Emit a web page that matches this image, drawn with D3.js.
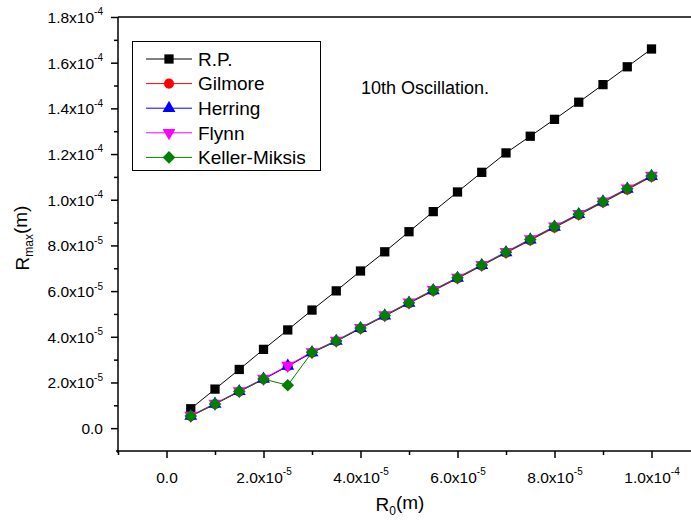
<!DOCTYPE html>
<html>
<head>
<meta charset="utf-8">
<script src="https://cdn.jsdelivr.net/npm/d3@7"></script>
<style>
  body { margin: 0; background: #fff; }
  svg { display: block; font-family: Arial, "Liberation Sans", sans-serif; }
</style>
</head>
<body>
<svg id="chart" width="691" height="524"></svg>
<script>
// R0 values (m)
var r0 = [0.5e-5, 1.0e-5, 1.5e-5, 2.0e-5, 2.5e-5, 3.0e-5, 3.5e-5, 4.0e-5, 4.5e-5, 5.0e-5,
          5.5e-5, 6.0e-5, 6.5e-5, 7.0e-5, 7.5e-5, 8.0e-5, 8.5e-5, 9.0e-5, 9.5e-5, 1.0e-4];

// Rmax values (m)
var rp = [8.5e-6, 1.71e-5, 2.57e-5, 3.45e-5, 4.30e-5, 5.17e-5, 6.01e-5, 6.88e-5, 7.72e-5, 8.60e-5,
          9.48e-5, 1.034e-4, 1.120e-4, 1.205e-4, 1.278e-4, 1.352e-4, 1.427e-4, 1.504e-4, 1.582e-4, 1.660e-4];
var gilmore = [5.2e-6, 1.05e-5, 1.60e-5, 2.14e-5, 2.71e-5, 3.30e-5, 3.80e-5, 4.36e-5, 4.91e-5, 5.46e-5,
               6.01e-5, 6.55e-5, 7.11e-5, 7.67e-5, 8.22e-5, 8.78e-5, 9.33e-5, 9.88e-5, 1.044e-4, 1.100e-4];
var herring = [5.3e-6, 1.06e-5, 1.61e-5, 2.15e-5, 2.72e-5, 3.31e-5, 3.81e-5, 4.37e-5, 4.92e-5, 5.48e-5,
               6.03e-5, 6.57e-5, 7.13e-5, 7.69e-5, 8.25e-5, 8.81e-5, 9.36e-5, 9.91e-5, 1.047e-4, 1.103e-4];
var flynn = [5.5e-6, 1.08e-5, 1.63e-5, 2.17e-5, 2.74e-5, 3.34e-5, 3.84e-5, 4.40e-5, 4.95e-5, 5.51e-5,
             6.06e-5, 6.60e-5, 7.16e-5, 7.72e-5, 8.28e-5, 8.84e-5, 9.39e-5, 9.94e-5, 1.050e-4, 1.106e-4];
var kellerMiksis = [5.3e-6, 1.06e-5, 1.61e-5, 2.15e-5, 1.88e-5, 3.32e-5, 3.82e-5, 4.38e-5, 4.93e-5, 5.49e-5,
                    6.04e-5, 6.58e-5, 7.14e-5, 7.70e-5, 8.26e-5, 8.82e-5, 9.37e-5, 9.92e-5, 1.048e-4, 1.104e-4];

var xTicks = [0, 2e-5, 4e-5, 6e-5, 8e-5, 1e-4];
var xTickLabels = [["0.0", ""], ["2.0x10", "-5"], ["4.0x10", "-5"], ["6.0x10", "-5"], ["8.0x10", "-5"], ["1.0x10", "-4"]];
var yTicks = [0, 2e-5, 4e-5, 6e-5, 8e-5, 1e-4, 1.2e-4, 1.4e-4, 1.6e-4, 1.8e-4];
var yTickLabels = [["0.0", ""], ["2.0x10", "-5"], ["4.0x10", "-5"], ["6.0x10", "-5"], ["8.0x10", "-5"],
                   ["1.0x10", "-4"], ["1.2x10", "-4"], ["1.4x10", "-4"], ["1.6x10", "-4"], ["1.8x10", "-4"]];

var series = [
    {name: "R.P.", values: rp, color: "#000", fill: "#000", shape: "square"},
    {name: "Gilmore", values: gilmore, color: "#ff0000", fill: "#ff0000", shape: "circle"},
    {name: "Herring", values: herring, color: "#0000ff", fill: "#0000ff", shape: "triangle"},
    {name: "Flynn", values: flynn, color: "#ff00ff", fill: "#ff00ff", shape: "triangleDown"},
    {name: "Keller-Miksis", values: kellerMiksis, color: "#008000", fill: "#008000", shape: "diamond"}
];

var svg = d3.select("#chart");

var x = d3.scaleLinear().domain([-1e-5, 1.1e-4]).range([118, 700]);
var y = d3.scaleLinear().domain([-1e-5, 1.8e-4]).range([451, 17]);

function symbolPath(shape) {
    if (shape === "square") return d3.symbol().type(d3.symbolSquare).size(86)();
    if (shape === "circle") return d3.symbol().type(d3.symbolCircle).size(80)();
    if (shape === "diamond") return d3.symbol().type(d3.symbolSquare).size(80)();
    return d3.symbol().type(d3.symbolTriangle).size(72)();
}
function symbolRotate(shape) {
    if (shape === "diamond") return 45;
    if (shape === "triangleDown") return 180;
    return 0;
}

// top frame line
svg.append("line")
    .attr("x1", x.range()[0]).attr("x2", 691)
    .attr("y1", y.range()[1]).attr("y2", y.range()[1])
    .attr("stroke", "#000").attr("stroke-width", 1.5);

// minor ticks
svg.append("g")
    .attr("transform", "translate(0," + y.range()[0] + ")")
    .call(d3.axisBottom(x).tickValues([-1e-5, 1e-5, 3e-5, 5e-5, 7e-5, 9e-5]).tickSize(4).tickSizeOuter(0).tickFormat(""))
    .call(function(g) { g.select(".domain").remove(); g.selectAll("line").attr("stroke-width", 1.5); });
svg.append("g")
    .attr("transform", "translate(" + x.range()[0] + ",0)")
    .call(d3.axisLeft(y).tickValues([1e-5, 3e-5, 5e-5, 7e-5, 9e-5, 1.1e-4, 1.3e-4, 1.5e-4, 1.7e-4]).tickSize(4).tickSizeOuter(0).tickFormat(""))
    .call(function(g) { g.select(".domain").remove(); g.selectAll("line").attr("stroke-width", 1.5); });

// x axis
var gx = svg.append("g")
    .attr("transform", "translate(0," + y.range()[0] + ")")
    .call(d3.axisBottom(x).tickValues(xTicks).tickSize(7).tickSizeOuter(0).tickPadding(9).tickFormat(""));
gx.select(".domain").attr("stroke-width", 1.5).attr("d", "M" + (x.range()[0] - 2) + ",0H691");
gx.selectAll(".tick line").attr("stroke-width", 1.5);
gx.selectAll(".tick text").each(function(d, i) {
    var t = d3.select(this).attr("font-size", 15.5).attr("fill", "#000").attr("font-family", null).attr("dy", "1em");
    t.append("tspan").text(xTickLabels[i][0]);
    if (xTickLabels[i][1]) t.append("tspan").attr("font-size", 10).attr("dy", "-0.75em").text(xTickLabels[i][1]);
});

// y axis
var gy = svg.append("g")
    .attr("transform", "translate(" + x.range()[0] + ",0)")
    .call(d3.axisLeft(y).tickValues(yTicks).tickSize(7).tickSizeOuter(0).tickPadding(8).tickFormat(""));
gy.select(".domain").attr("stroke-width", 1.5).attr("d", "M0," + (y.range()[0] + 2) + "V" + y.range()[1]);
gy.selectAll(".tick line").attr("stroke-width", 1.5);
gy.selectAll(".tick text").each(function(d, i) {
    var t = d3.select(this).attr("font-size", 15.5).attr("fill", "#000").attr("font-family", null).attr("dy", "0.35em");
    t.append("tspan").text(yTickLabels[i][0]);
    if (yTickLabels[i][1]) t.append("tspan").attr("font-size", 10).attr("dy", "-0.75em").text(yTickLabels[i][1]);
});

// lines and markers
var line = d3.line()
    .x(function(d) { return x(d[0]); })
    .y(function(d) { return y(d[1]); });

series.forEach(function(s) {
    var pts = r0.map(function(v, i) { return [v, s.values[i]]; });
    svg.append("path")
        .datum(pts)
        .attr("fill", "none")
        .attr("stroke", s.color)
        .attr("stroke-width", 1)
        .attr("d", line);
});
series.forEach(function(s) {
    var pts = r0.map(function(v, i) { return [v, s.values[i]]; });
    svg.append("g").selectAll("path")
        .data(pts)
        .enter().append("path")
        .attr("d", symbolPath(s.shape))
        .attr("fill", s.fill)
        .attr("transform", function(d) {
            return "translate(" + x(d[0]) + "," + y(d[1]) + ") rotate(" + symbolRotate(s.shape) + ")";
        });
});

// legend
var legend = svg.append("g");
legend.append("rect")
    .attr("x", 132.5).attr("y", 41.5).attr("width", 188).attr("height", 129)
    .attr("fill", "#fff").attr("stroke", "#000").attr("stroke-width", 1);
series.forEach(function(s, i) {
    var ly = 59 + i * 24.6;
    legend.append("line")
        .attr("x1", 146).attr("x2", 192).attr("y1", ly).attr("y2", ly)
        .attr("stroke", s.color).attr("stroke-width", 1);
    legend.append("path")
        .attr("d", symbolPath(s.shape))
        .attr("fill", s.fill)
        .attr("transform", "translate(169," + ly + ") rotate(" + symbolRotate(s.shape) + ")");
    legend.append("text")
        .attr("x", 198).attr("y", ly).attr("dy", "0.36em")
        .attr("font-size", 19)
        .text(s.name);
});

// annotation
svg.append("text")
    .attr("x", 361).attr("y", 94)
    .attr("font-size", 18)
    .text("10th Oscillation.");

// axis titles
var xt = svg.append("text")
    .attr("x", 400).attr("y", 511)
    .attr("text-anchor", "middle")
    .attr("font-size", 19);
xt.append("tspan").text("R");
xt.append("tspan").attr("font-size", 12).attr("dy", "0.35em").text("0");
xt.append("tspan").attr("dy", "-0.35em").text("(m)");

var yt = svg.append("text")
    .attr("transform", "translate(29,238) rotate(-90)")
    .attr("text-anchor", "middle")
    .attr("font-size", 19);
yt.append("tspan").text("R");
yt.append("tspan").attr("font-size", 12).attr("dy", "0.35em").text("max");
yt.append("tspan").attr("dy", "-0.35em").text("(m)");
</script>
</body>
</html>
